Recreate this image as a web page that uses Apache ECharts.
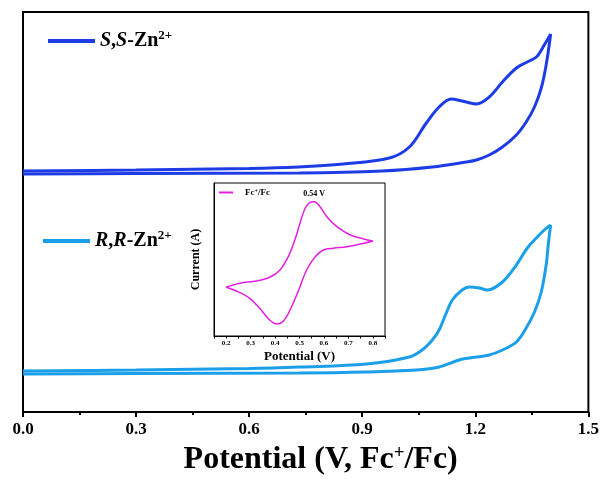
<!DOCTYPE html>
<html>
<head>
<meta charset="utf-8">
<script src="https://cdn.jsdelivr.net/npm/echarts@6/dist/echarts.min.js"></script>
<style>
  html, body { margin: 0; padding: 0; background: #fff; }
  #chart { width: 602px; height: 484px; }
</style>
</head>
<body>
<div id="chart"></div>
<script>
// CV curves, x = potential (V), y = current (arbitrary units)
const ssForward = [[0.00, 241], [0.30, 242], [0.60, 243.5], [0.73, 245], [0.85, 248], [0.972, 254], [1.025, 265], [1.07, 289], [1.104, 305], [1.136, 313], [1.165, 311], [1.203, 308], [1.237, 315], [1.272, 330], [1.309, 344], [1.338, 350], [1.362, 355], [1.383, 367], [1.40, 378]]
const ssReturn = [[1.40, 378], [1.388, 347], [1.375, 324], [1.357, 305], [1.335, 290], [1.309, 277], [1.272, 265], [1.237, 257], [1.203, 252], [1.176, 250], [1.086, 245], [0.953, 241], [0.733, 239], [0.30, 238.5], [0.00, 238]]
const rrForward = [[0.00, 41], [0.30, 42], [0.60, 43.5], [0.733, 45], [0.911, 48], [1.025, 55], [1.059, 62], [1.086, 72], [1.104, 82], [1.123, 99], [1.139, 112], [1.165, 122], [1.184, 125], [1.21, 124], [1.232, 122], [1.272, 130], [1.309, 147], [1.338, 164], [1.362, 174], [1.383, 182], [1.40, 187]]
const rrReturn = [[1.40, 187], [1.394, 169], [1.388, 147], [1.375, 120], [1.357, 100], [1.335, 84], [1.309, 70], [1.272, 62], [1.237, 57], [1.184, 54], [1.157, 52], [1.104, 45], [1.043, 42], [0.911, 40], [0.733, 39], [0.30, 38.5], [0.00, 38]]
// inset: ferrocene reference
const fcForward = [[0.20, 48.7], [0.255, 52.7], [0.324, 55], [0.378, 58.7], [0.42, 66], [0.454, 79.3], [0.481, 96], [0.502, 112.7], [0.523, 127.7], [0.543, 133.7], [0.56, 134.3], [0.584, 129.3], [0.612, 119.3], [0.653, 109.3], [0.708, 101], [0.763, 97], [0.80, 95]]
const fcReturn = [[0.80, 95], [0.763, 92.7], [0.694, 89.3], [0.639, 87.7], [0.598, 86], [0.564, 79.3], [0.529, 66], [0.502, 49.3], [0.474, 32.7], [0.447, 19.3], [0.427, 13.3], [0.408, 12], [0.378, 16], [0.337, 27.7], [0.296, 37.7], [0.241, 45], [0.20, 48.7]]
const fcPeak = [0.56, 134.3]
const fcPeakLabel = '0.54 V'

const FONT = '"Liberation Serif", "Times New Roman", serif'
const SS = 'S,S-Zn2+'
const RR = 'R,R-Zn2+'
const FC = 'Fc+/Fc'

const legendRich = {
  i: { fontFamily: FONT, fontSize: 20, fontWeight: 'bold', fontStyle: 'italic', color: '#000', lineHeight: 24 },
  b: { fontFamily: FONT, fontSize: 20, fontWeight: 'bold', color: '#000', lineHeight: 24 },
  sup: { fontFamily: FONT, fontSize: 13, fontWeight: 'bold', color: '#000', verticalAlign: 'top', lineHeight: 14 }
}

function mkLegend(name, left, top, text) {
  return {
    data: [name],
    left: left,
    top: top,
    padding: 0,
    z: 10,
    icon: 'rect',
    itemWidth: 47,
    itemHeight: 4,
    textStyle: { fontFamily: FONT, fontSize: 20, fontWeight: 'bold', color: '#000', rich: legendRich },
    formatter: function() { return text }
  }
}

const chart = echarts.init(document.getElementById('chart'))
const option = {
  animation: false,
  backgroundColor: '#fff',
  legend: [
    mkLegend(SS, 48, 29, '{i|S}{b|,}{i|S}{b|-Zn}{sup|2+}'),
    mkLegend(RR, 43, 229, '{i|R}{b|,}{i|R}{b|-Zn}{sup|2+}'),
    {
      data: [FC],
      left: 219,
      top: 188,
      padding: 0,
      z: 10,
      icon: 'rect',
      itemWidth: 14,
      itemHeight: 2,
      textStyle: {
        fontFamily: FONT, fontSize: 9, fontWeight: 'bold', color: '#000', padding: [0, 0, 0, 7],
        rich: { sup: { fontFamily: FONT, fontSize: 6, fontWeight: 'bold', color: '#000', verticalAlign: 'top', lineHeight: 6 } }
      },
      formatter: function() { return 'Fc{sup|+}/Fc' }
    }
  ],
  grid: [
    { left: 23, right: 13, top: 12, bottom: 72, show: true, borderColor: '#000', borderWidth: 2 },
    { left: 214, top: 183, width: 171, height: 153, show: true, borderColor: '#000', borderWidth: 1, backgroundColor: '#fff', z: 5 }
  ],
  xAxis: [
    {
      type: 'value',
      gridIndex: 0,
      min: 0,
      max: 1.5,
      interval: 0.3,
      name: 'Potential (V, Fc{sup|+}/Fc)',
      nameLocation: 'middle',
      nameGap: 32,
      nameTextStyle: {
        fontFamily: FONT, fontSize: 32, fontWeight: 'bold', color: '#000', padding: [0, 0, 0, 30],
        rich: { sup: { fontFamily: FONT, fontSize: 19, fontWeight: 'bold', color: '#000', verticalAlign: 'top', lineHeight: 18 } }
      },
      axisLine: { show: true, lineStyle: { color: '#000', width: 2 } },
      axisTick: { show: true, length: 5, lineStyle: { color: '#000', width: 2 } },
      minorTick: { show: true, splitNumber: 2, length: 3, lineStyle: { color: '#000', width: 2 } },
      axisLabel: {
        fontFamily: FONT, fontSize: 17, fontWeight: 'bold', color: '#000', margin: 9,
        formatter: function(v) { return v.toFixed(1) }
      },
      splitLine: { show: false }
    },
    {
      type: 'value',
      gridIndex: 1,
      min: 0.15,
      max: 0.85,
      interval: 0.05,
      name: 'Potential (V)',
      nameLocation: 'middle',
      nameGap: 14,
      nameTextStyle: { fontFamily: FONT, fontSize: 13, fontWeight: 'bold', color: '#000' },
      axisLine: { show: true, lineStyle: { color: '#000', width: 1 } },
      axisTick: { show: true, length: 2.5, lineStyle: { color: '#000', width: 1 } },
      axisLabel: {
        fontFamily: FONT, fontSize: 7, fontWeight: 'bold', color: '#000', margin: 4,
        formatter: function(v) {
          return Math.round(v * 20) % 2 === 0 ? v.toFixed(1) : ''
        }
      },
      splitLine: { show: false },
      z: 6
    }
  ],
  yAxis: [
    {
      type: 'value',
      gridIndex: 0,
      min: 0,
      max: 400,
      axisLine: { show: true, lineStyle: { color: '#000', width: 2 } },
      axisTick: { show: false },
      axisLabel: { show: false },
      splitLine: { show: false }
    },
    {
      type: 'value',
      gridIndex: 1,
      min: 0,
      max: 153,
      name: 'Current (A)',
      nameLocation: 'middle',
      nameGap: 12,
      nameTextStyle: { fontFamily: FONT, fontSize: 12, fontWeight: 'bold', color: '#000' },
      axisLine: { show: true, lineStyle: { color: '#000', width: 1 } },
      axisTick: { show: false },
      axisLabel: { show: false },
      splitLine: { show: false },
      z: 6
    }
  ],
  series: [
    { name: SS, type: 'line', data: ssForward, smooth: 0.35, showSymbol: false, color: '#1e3ce6', lineStyle: { width: 3 } },
    { name: SS, type: 'line', data: ssReturn, smooth: 0.35, showSymbol: false, color: '#1e3ce6', lineStyle: { width: 3 } },
    { name: RR, type: 'line', data: rrForward, smooth: 0.35, showSymbol: false, color: '#1a9fe8', lineStyle: { width: 3 } },
    { name: RR, type: 'line', data: rrReturn, smooth: 0.35, showSymbol: false, color: '#1a9fe8', lineStyle: { width: 3 } },
    {
      name: FC, type: 'line', xAxisIndex: 1, yAxisIndex: 1, data: fcForward, smooth: 0.35, showSymbol: false,
      color: '#e41ee0', lineStyle: { width: 1.5 }, z: 7,
      markPoint: {
        symbol: 'circle',
        symbolSize: 0,
        data: [{ coord: fcPeak, value: fcPeakLabel }],
        label: {
          show: true, position: 'top', distance: 4, formatter: fcPeakLabel,
          fontFamily: FONT, fontSize: 8, fontWeight: 'bold', color: '#000'
        }
      }
    },
    { name: FC, type: 'line', xAxisIndex: 1, yAxisIndex: 1, data: fcReturn, smooth: 0.35, showSymbol: false, color: '#e41ee0', lineStyle: { width: 1.5 }, z: 7 }
  ]
}
chart.setOption(option)
</script>
</body>
</html>
